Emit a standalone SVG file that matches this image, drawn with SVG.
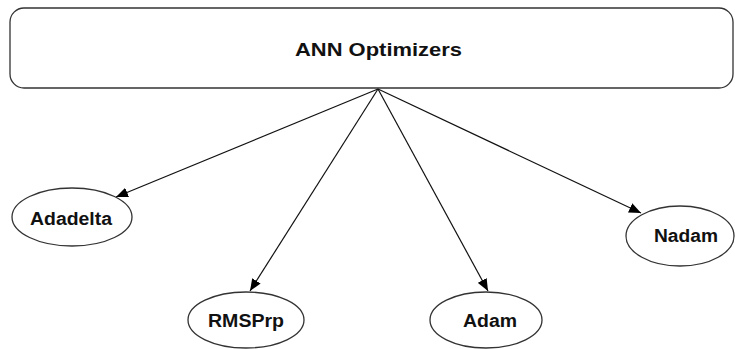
<svg xmlns="http://www.w3.org/2000/svg" width="735" height="349" viewBox="0 0 735 349">
  <style>
    .shape { fill: #ffffff; stroke: #333333; stroke-width: 1.3; }
    .label { font-family: "Liberation Sans", Arial, sans-serif; font-weight: bold; font-size: 18px; fill: #111111; text-anchor: middle; }
    .edge { stroke: #111111; stroke-width: 1.2; fill: none; marker-end: url(#arrow); }
  </style>
  <defs>
    <marker id="arrow" viewBox="0 0 12 10" refX="12" refY="5" markerWidth="12" markerHeight="10" markerUnits="userSpaceOnUse" orient="auto">
      <path d="M0,0 L12,5 L0,10 Z" fill="#000000"/>
    </marker>
  </defs>
  <rect width="735" height="349" fill="#ffffff"/>

  <g id="root">
    <rect class="shape" x="10" y="8" width="723" height="80" rx="14" ry="14"/>
    <text class="label" x="378.5" y="56" font-size="18.5" textLength="167" lengthAdjust="spacingAndGlyphs">ANN Optimizers</text>
  </g>

  <g id="connectors">
    <line class="edge" x1="378" y1="89" x2="116" y2="197"/>
    <line class="edge" x1="378" y1="89" x2="250" y2="291"/>
    <line class="edge" x1="378" y1="89" x2="488" y2="291"/>
    <line class="edge" x1="378" y1="89" x2="641" y2="213"/>
  </g>

  <g id="adadelta">
    <ellipse class="shape" cx="72" cy="217" rx="60" ry="29"/>
    <text class="label" x="71" y="225" textLength="82" lengthAdjust="spacingAndGlyphs">Adadelta</text>
  </g>
  <g id="rmsprp">
    <ellipse class="shape" cx="246" cy="320" rx="58" ry="28"/>
    <text class="label" x="246" y="327" textLength="76" lengthAdjust="spacingAndGlyphs">RMSPrp</text>
  </g>
  <g id="adam">
    <ellipse class="shape" cx="486" cy="320" rx="56" ry="28"/>
    <text class="label" x="490" y="327" textLength="54" lengthAdjust="spacingAndGlyphs">Adam</text>
  </g>
  <g id="nadam">
    <ellipse class="shape" cx="680" cy="236" rx="54" ry="30"/>
    <text class="label" x="686" y="242" textLength="64" lengthAdjust="spacingAndGlyphs">Nadam</text>
  </g>
</svg>
